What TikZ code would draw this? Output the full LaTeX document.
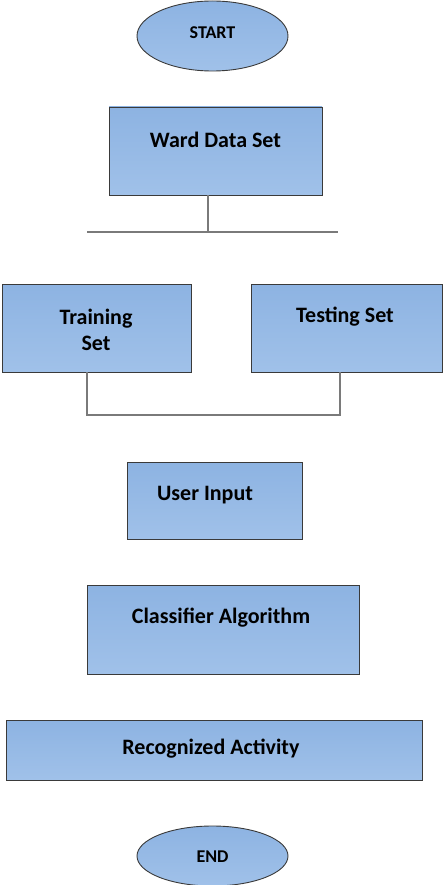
\documentclass[tikz,border=0pt]{standalone}
\usepackage{fontspec}
\setmainfont{Carlito}
\usetikzlibrary{shapes.geometric}
\definecolor{boxtop}{HTML}{8DB3E2}
\definecolor{boxbot}{HTML}{A0C1E9}
\definecolor{edgec}{HTML}{3A3A3A}
\definecolor{linec}{HTML}{7A7A7A}
\tikzset{
  box/.style={draw=edgec, line width=0.9pt, top color=boxtop, bottom color=boxbot, inner sep=0pt},
  oval/.style={ellipse, draw=edgec, line width=0.9pt, top color=boxtop, bottom color=boxbot, inner sep=0pt},
  lbl/.style={font=\bfseries\fontsize{22}{26}\selectfont, text=black, inner sep=0pt, align=center},
  small/.style={font=\bfseries\fontsize{18}{21}\selectfont, text=black, inner sep=0pt},
  conn/.style={draw=linec, line width=1.1pt}
}
\begin{document}
\begin{tikzpicture}[x=1pt,y=-1pt]
\useasboundingbox (0,0) rectangle (445,885);
% START
\node[oval, minimum width=151pt, minimum height=70pt] (start) at (212.5,36) {};
\node[small] (starttxt) at (212.5,33) {START};
% Ward Data Set
\node[box, minimum width=213pt, minimum height=88pt] (ward) at (215.5,151) {};
\node[lbl] (wardtxt) at (215.5,140) {Ward Data Set};
% split bar
\coordinate (barL) at (87,232);
\coordinate (barR) at (338,232);
\coordinate (barM) at (208,232);
\draw[conn] (ward.south -| barM) -- (barM);
\draw[conn] (barL) -- (barR);
% Training / Testing
\node[box, minimum width=189pt, minimum height=88pt] (train) at (96.5,328) {};
\node[lbl] (traintxt) at (96,330) {Training\\Set};
\node[box, minimum width=191pt, minimum height=88pt] (test) at (346.5,328) {};
\node[lbl] (testtxt) at (345,317) {Testing Set};
\coordinate (jL) at (87,415);
\coordinate (jR) at (340,415);
\draw[conn] (train.south -| jL) -- (jL) -- (jR) -- (test.south -| jR);
% User Input
\node[box, minimum width=175pt, minimum height=77pt] (user) at (214.5,500.5) {};
\node[lbl] (usertxt) at (205,495) {User Input};
% Classifier
\node[box, minimum width=272pt, minimum height=89pt] (clf) at (223,629.5) {};
\node[lbl] (clftxt) at (221,618) {Classifier Algorithm};
% Recognized
\node[box, minimum width=416pt, minimum height=60pt] (rec) at (214,750) {};
\node[lbl] (rectxt) at (211,749) {Recognized Activity};
% END
\node[oval, minimum width=151pt, minimum height=60pt] (end) at (212.5,856) {};
\node[small] (endtxt) at (212.5,857) {END};
\end{tikzpicture}
\end{document}
